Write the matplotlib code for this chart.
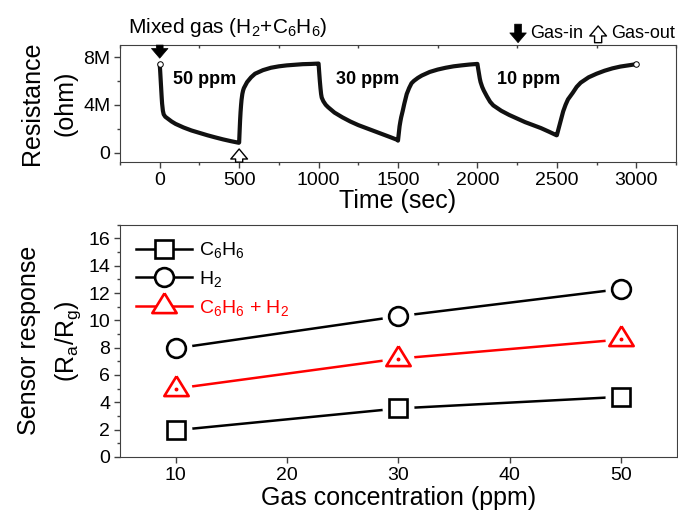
import numpy as np
import matplotlib.pyplot as plt
from matplotlib.lines import Line2D
from matplotlib.ticker import MultipleLocator

plt.rcParams['font.family'] = ['Liberation Sans', 'DejaVu Sans']
plt.rcParams['mathtext.fontset'] = 'custom'
plt.rcParams['mathtext.rm'] = 'Liberation Sans'
plt.rcParams['mathtext.it'] = 'Liberation Sans:italic'
plt.rcParams['mathtext.bf'] = 'Liberation Sans:bold'

# Resistance transient (time in s, resistance in Mohm)
t_50_in = [0, 3, 6, 9, 12, 15, 20, 25, 35, 50, 75, 100, 150, 200, 250, 300, 350, 400, 450, 498]
r_50_in = [7.4, 6.8, 6.1, 5.4, 4.7, 4.1, 3.5, 3.2, 3.0, 2.85, 2.6, 2.4, 2.1, 1.85, 1.65, 1.45, 1.27, 1.1, 0.95, 0.82]
t_50_out = [500, 503, 506, 509, 512, 515, 520, 525, 530, 540, 550, 575, 600, 650, 700, 750, 800, 850, 900, 950, 998]
r_50_out = [0.85, 1.8, 2.7, 3.4, 3.95, 4.4, 4.9, 5.2, 5.4, 5.65, 5.9, 6.3, 6.6, 6.9, 7.1, 7.22, 7.3, 7.35, 7.4, 7.42, 7.45]
t_30_in = [1000, 1004, 1008, 1012, 1016, 1020, 1030, 1045, 1060, 1100, 1150, 1200, 1250, 1300, 1350, 1400, 1450, 1498]
r_30_in = [7.45, 6.7, 6.0, 5.4, 4.9, 4.6, 4.3, 4.0, 3.8, 3.35, 2.95, 2.6, 2.3, 2.05, 1.8, 1.55, 1.3, 1.05]
t_30_out = [1500, 1505, 1510, 1515, 1520, 1530, 1540, 1555, 1570, 1585, 1600, 1625, 1650, 1700, 1750, 1800, 1850, 1900, 1950, 1998]
r_30_out = [1.0, 1.6, 2.2, 2.6, 2.95, 3.5, 4.1, 4.9, 5.4, 5.8, 6.0, 6.25, 6.45, 6.75, 6.95, 7.1, 7.22, 7.3, 7.37, 7.42]
t_10_in = [2000, 2005, 2010, 2015, 2020, 2030, 2040, 2060, 2080, 2100, 2150, 2200, 2250, 2300, 2350, 2400, 2450, 2498]
r_10_in = [7.42, 7.0, 6.6, 6.2, 5.9, 5.5, 5.2, 4.7, 4.25, 3.95, 3.5, 3.15, 2.85, 2.55, 2.3, 2.05, 1.75, 1.45]
t_10_out = [2500, 2505, 2510, 2515, 2520, 2530, 2540, 2555, 2570, 2600, 2625, 2650, 2700, 2750, 2800, 2850, 2900, 2950, 3000]
r_10_out = [1.45, 1.7, 1.95, 2.2, 2.45, 2.95, 3.45, 4.0, 4.45, 5.0, 5.5, 5.85, 6.3, 6.6, 6.85, 7.05, 7.2, 7.3, 7.4]

res_ticks = [0, 4e6, 8e6]
res_ticklabels = ['0', '4M', '8M']
ppm_labels = ['50 ppm', '30 ppm', '10 ppm']
ppm_label_t = [82, 1109, 2123]

# Sensor response vs concentration
conc = [10, 30, 50]
resp_c6h6 = [1.95, 3.55, 4.4]
resp_h2 = [7.95, 10.3, 12.3]
resp_mix = [5.0, 7.2, 8.6]

time_s = np.concatenate([t_50_in, t_50_out, t_30_in, t_30_out, t_10_in, t_10_out])
res_ohm = np.concatenate([r_50_in, r_50_out, r_30_in, r_30_out, r_10_in, r_10_out]) * 1e6

spine_col = '#404040'
fig = plt.figure(figsize=(6.78, 5.18), dpi=100)
ax1 = fig.add_axes([0.177, 0.687, 0.82, 0.226])
ax2 = fig.add_axes([0.177, 0.118, 0.8215, 0.448])

# ---- top panel
ax1.plot(time_s, res_ohm, color='#111111', lw=3.0, solid_capstyle='round',
         solid_joinstyle='round', zorder=2)
ax1.plot(time_s[[0, -1]], res_ohm[[0, -1]], ls='none', marker='o', ms=4,
         mfc='white', mec='black', mew=0.7, zorder=3)
ax1.set_xlim(-250, 3250)
ax1.set_ylim(-0.8e6, 9.0e6)
ax1.xaxis.set_major_locator(MultipleLocator(500))
ax1.xaxis.set_minor_locator(MultipleLocator(250))
ax1.set_yticks(res_ticks)
ax1.set_yticklabels(res_ticklabels)
ax1.yaxis.set_minor_locator(MultipleLocator(2e6))
ax1.tick_params(which='both', direction='out', labelsize=14, width=1, color=spine_col, pad=3)
ax1.tick_params(which='major', length=4)
ax1.tick_params(which='minor', length=2.5)
ax1.tick_params(axis='x', which='minor', top=True)
for tk in ax1.xaxis.get_minor_ticks():
    tk.tick2line.set_marker(3)
ax1.set_xlabel('Time (sec)', fontsize=18, labelpad=0)
ax1.set_ylabel('Resistance\n(ohm)', fontsize=18, linespacing=1.5, labelpad=4)
for sp in ax1.spines.values():
    sp.set_color(spine_col)

for lab, tx in zip(ppm_labels, ppm_label_t):
    ax1.text(tx, 5.7e6, lab, fontsize=13, fontweight='bold', va='baseline')

arrow_solid = dict(arrowstyle='simple,head_length=0.5,head_width=0.85,tail_width=0.35',
                   mutation_scale=14, fc='black', ec='black', lw=0.5, shrinkA=0, shrinkB=0)
arrow_open = dict(arrowstyle='simple,head_length=0.45,head_width=0.75,tail_width=0.32',
                  mutation_scale=16, fc='white', ec='black', lw=1.0, shrinkA=0, shrinkB=0)
ax1.annotate('', xy=(0, 7.9e6), xytext=(0, 9.0e6), arrowprops=arrow_solid, annotation_clip=False)
ax1.annotate('', xy=(500, 0.3e6), xytext=(500, -0.8e6), arrowprops=arrow_open, annotation_clip=False)
ax1.annotate('', xy=(2256, 9.2e6), xytext=(2256, 10.75e6), arrowprops=arrow_solid, annotation_clip=False)
ax1.annotate('', xy=(2760, 10.6e6), xytext=(2760, 9.2e6), arrowprops=arrow_open, annotation_clip=False)
ax1.text(2331, 10.0e6, 'Gas-in', fontsize=13, va='center')
ax1.text(2842, 10.0e6, 'Gas-out', fontsize=13, va='center')
fig.text(0.189, 0.946, r'Mixed gas (H$_\mathregular{2}$+C$_\mathregular{6}$H$_\mathregular{6}$)',
         fontsize=15, va='center')

# ---- bottom panel
tri = [(0, 13), (-12, -6.5), (12, -6.5), (0, 13)]
series = [
    (resp_c6h6, 'black', 's', 12.5, r'C$_\mathregular{6}$H$_\mathregular{6}$'),
    (resp_h2, 'black', 'o', 13.5, r'H$_\mathregular{2}$'),
    (resp_mix, 'red', tri, 19, r'C$_\mathregular{6}$H$_\mathregular{6}$ + H$_\mathregular{2}$'),
]
handles = []
for vals, col, mk, ms, lab in series:
    ax2.plot(conc, vals, color=col, lw=1.8, zorder=1)
    ax2.plot(conc, vals, ls='none', marker='o', ms=23, mfc='white', mec='none', zorder=2)
    ax2.plot(conc, vals, ls='none', marker=mk, ms=ms, mfc='white', mec=col, mew=1.9, zorder=3)
    handles.append(Line2D([], [], color=col, lw=1.8, marker=mk, ms=ms, mfc='white',
                          mec=col, mew=1.9, label=lab))
ax2.plot(conc, resp_mix, ls='none', marker='o', ms=1.8, color='red', zorder=4)

ax2.set_xlim(5, 55)
ax2.set_ylim(0, 17)
ax2.xaxis.set_major_locator(MultipleLocator(10))
ax2.yaxis.set_major_locator(MultipleLocator(2))
ax2.yaxis.set_minor_locator(MultipleLocator(1))
ax2.tick_params(which='both', direction='out', labelsize=14, width=1, color=spine_col, pad=3)
ax2.tick_params(which='major', length=4)
ax2.tick_params(which='minor', length=2.5)
ax2.set_xlabel('Gas concentration (ppm)', fontsize=18, labelpad=2)
ax2.set_ylabel('Sensor response\n' + r'(R$_\mathregular{a}$/R$_\mathregular{g}$)', fontsize=18,
               linespacing=1.6, labelpad=4)
for sp in ax2.spines.values():
    sp.set_color(spine_col)

leg = ax2.legend(handles=handles, loc='upper left', bbox_to_anchor=(0.0, 1.0),
                 frameon=False, fontsize=14, handlelength=2.9, handletextpad=0.35,
                 labelspacing=0.45, borderaxespad=0.3, borderpad=0.5, numpoints=1)
leg.get_texts()[2].set_color('red')

fig.savefig('out.png', dpi=100)
